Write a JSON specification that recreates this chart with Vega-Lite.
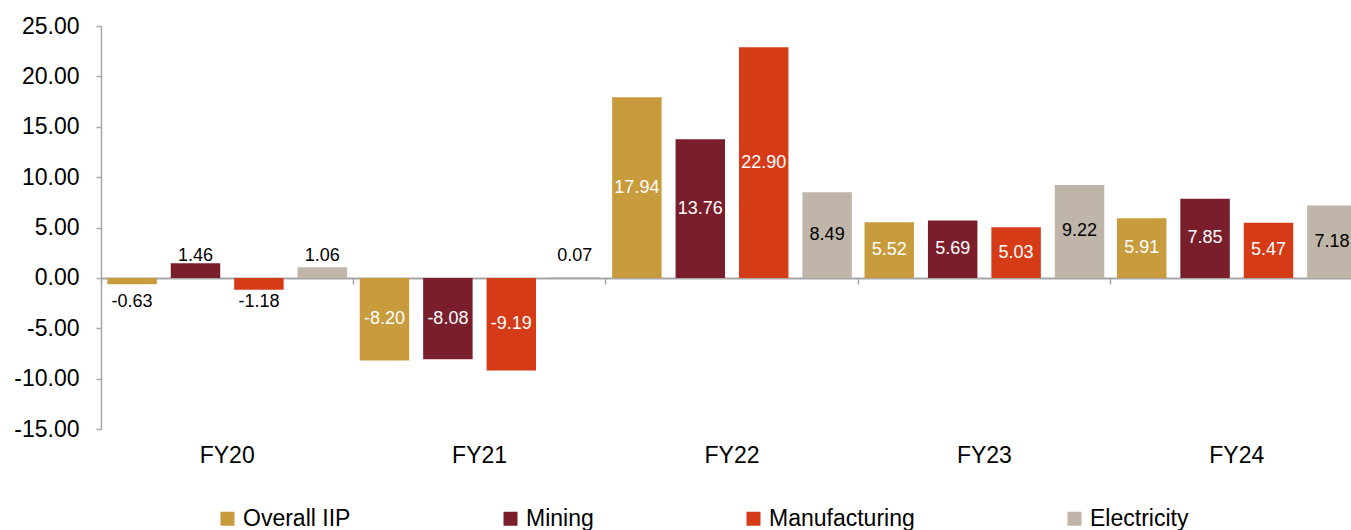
{
  "$schema": "https://vega.github.io/schema/vega-lite/v6.json",
  "autosize": {"type": "none"},
  "padding": {"left": 101, "top": 26, "right": 0, "bottom": 101},
  "width": 1250,
  "height": 403,
  "background": "white",
  "config": {
    "view": {"stroke": null},
    "font": "Liberation Sans",
    "axis": {"labelFont": "Liberation Sans", "labelColor": "#000000", "grid": false}
  },
  "data": {
    "values": [
      {"year": "FY20", "series": "Overall IIP", "value": -0.63},
      {"year": "FY20", "series": "Mining", "value": 1.46},
      {"year": "FY20", "series": "Manufacturing", "value": -1.18},
      {"year": "FY20", "series": "Electricity", "value": 1.06},
      {"year": "FY21", "series": "Overall IIP", "value": -8.20},
      {"year": "FY21", "series": "Mining", "value": -8.08},
      {"year": "FY21", "series": "Manufacturing", "value": -9.19},
      {"year": "FY21", "series": "Electricity", "value": 0.07},
      {"year": "FY22", "series": "Overall IIP", "value": 17.94},
      {"year": "FY22", "series": "Mining", "value": 13.76},
      {"year": "FY22", "series": "Manufacturing", "value": 22.90},
      {"year": "FY22", "series": "Electricity", "value": 8.49},
      {"year": "FY23", "series": "Overall IIP", "value": 5.52},
      {"year": "FY23", "series": "Mining", "value": 5.69},
      {"year": "FY23", "series": "Manufacturing", "value": 5.03},
      {"year": "FY23", "series": "Electricity", "value": 9.22},
      {"year": "FY24", "series": "Overall IIP", "value": 5.91},
      {"year": "FY24", "series": "Mining", "value": 7.85},
      {"year": "FY24", "series": "Manufacturing", "value": 5.47},
      {"year": "FY24", "series": "Electricity", "value": 7.18}
    ]
  },
  "transform": [
    {"calculate": "datum.value / 2", "as": "mid"},
    {"calculate": "replace(format(datum.value, '.2f'), '\u2212', '-')", "as": "lbl"}
  ],
  "resolve": {"axis": {"x": "independent"}},
  "layer": [
    {
      "mark": {"type": "bar"},
      "encoding": {
        "x": {
          "field": "year", "type": "nominal", "title": null,
          "scale": {"paddingInner": 0, "paddingOuter": 0, "range": [0, 1262]},
          "axis": {"orient": "bottom", "domain": false, "ticks": false, "labelAngle": 0,
                   "labelFontSize": 23, "labelPadding": 15}
        },
        "xOffset": {
          "field": "series", "type": "nominal",
          "sort": ["Overall IIP", "Mining", "Manufacturing", "Electricity"],
          "scale": {"paddingInner": 0.22, "paddingOuter": 0.1}
        },
        "y": {
          "field": "value", "type": "quantitative", "title": null,
          "scale": {"domain": [-15, 25], "nice": false, "zero": false},
          "axis": {"values": [-15, -10, -5, 0, 5, 10, 15, 20, 25], "format": ".2f",
                   "labelExpr": "replace(datum.label, '\u2212', '-')",
                   "labelFontSize": 23, "labelPadding": 17, "domainColor": "#A6A6A6",
                   "domainWidth": 1.5, "tickColor": "#A6A6A6", "tickWidth": 1.5, "tickSize": 5}
        },
        "color": {
          "field": "series", "type": "nominal",
          "sort": ["Overall IIP", "Mining", "Manufacturing", "Electricity"],
          "scale": {"domain": ["Overall IIP", "Mining", "Manufacturing", "Electricity"],
                    "range": ["#C89B3C", "#7B1E2B", "#D63B17", "#BFB5A8"]},
          "legend": {
            "title": null, "orient": "none", "legendX": 115, "legendY": 481,
            "direction": "horizontal", "symbolType": "square", "symbolSize": 196,
            "symbolStrokeWidth": 0, "labelFontSize": 23, "labelFont": "Liberation Sans",
            "labelColor": "#000000", "labelOffset": 4, "columnPadding": 148
          }
        }
      }
    },
    {
      "mark": {"type": "rule", "color": "#A6A6A6", "strokeWidth": 0},
      "encoding": {
        "x": {
          "field": "year", "type": "nominal", "title": null,
          "axis": {"orient": "bottom", "offset": -151, "labels": false, "domain": true,
                   "domainColor": "#A6A6A6", "domainWidth": 2, "ticks": true,
                   "bandPosition": 0, "tickColor": "#A6A6A6", "tickWidth": 1.5, "tickSize": 6}
        }
      }
    },
    {
      "transform": [{"filter": "abs(datum.value) >= 3"}],
      "mark": {"type": "text", "fontSize": 18, "baseline": "middle", "align": "center"},
      "encoding": {
        "x": {"field": "year", "type": "nominal", "axis": null},
        "xOffset": {"field": "series", "type": "nominal",
                    "sort": ["Overall IIP", "Mining", "Manufacturing", "Electricity"]},
        "y": {"field": "mid", "type": "quantitative"},
        "text": {"field": "lbl"},
        "color": {
          "condition": {"test": "datum.series === 'Electricity'", "value": "#000000"},
          "value": "#FFFFFF"
        }
      }
    },
    {
      "transform": [{"filter": "abs(datum.value) < 3 && datum.value >= 0"}],
      "mark": {"type": "text", "fontSize": 18, "baseline": "middle", "align": "center", "dy": -22, "color": "#000000"},
      "encoding": {
        "x": {"field": "year", "type": "nominal", "axis": null},
        "xOffset": {"field": "series", "type": "nominal",
                    "sort": ["Overall IIP", "Mining", "Manufacturing", "Electricity"]},
        "y": {"datum": 0, "type": "quantitative"},
        "text": {"field": "lbl"}
      }
    },
    {
      "transform": [{"filter": "abs(datum.value) < 3 && datum.value < 0"}],
      "mark": {"type": "text", "fontSize": 18, "baseline": "middle", "align": "center", "dy": 24, "color": "#000000"},
      "encoding": {
        "x": {"field": "year", "type": "nominal", "axis": null},
        "xOffset": {"field": "series", "type": "nominal",
                    "sort": ["Overall IIP", "Mining", "Manufacturing", "Electricity"]},
        "y": {"datum": 0, "type": "quantitative"},
        "text": {"field": "lbl"}
      }
    }
  ]
}
